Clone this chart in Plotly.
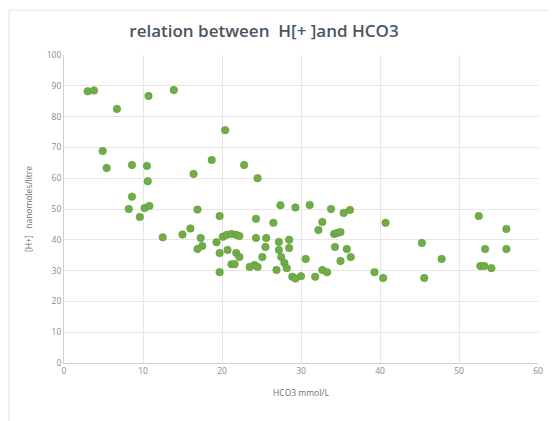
import plotly.graph_objects as go

hco3 = [3.0, 3.8, 6.7, 10.7, 13.9, 4.9, 5.4, 8.6, 10.5, 10.6, 8.6, 8.2, 10.2, 10.8, 9.6,
        12.5, 15.0, 16.0, 16.4, 18.7, 20.4, 22.8, 24.5, 16.9, 19.7, 24.3, 26.5,
        17.3, 17.5, 16.9, 19.3, 20.1, 20.6, 21.2, 21.8, 22.2, 19.7, 20.7, 21.8, 22.2,
        21.2, 21.6, 19.7, 23.5, 24.1, 24.5, 24.3, 25.6, 25.5, 25.1, 27.2, 27.2, 27.5,
        26.9, 28.5, 28.5, 27.9, 28.2, 28.9, 27.4, 29.3, 31.1, 33.8, 35.4, 36.2, 32.7,
        32.2, 34.2, 34.6, 35.0, 34.3, 35.8, 36.3, 35.0, 30.6, 32.7, 33.3, 31.8, 30.0,
        29.3, 39.3, 40.4, 40.7, 45.3, 47.8, 45.6, 52.5, 56.0, 53.3, 56.0, 52.7, 53.2, 54.1]
h_ion = [88.2, 88.5, 82.5, 86.7, 88.6, 68.8, 63.3, 64.3, 64.0, 59.0, 54.0, 50.0, 50.3, 51.0, 47.4,
         40.8, 41.7, 43.7, 61.4, 65.9, 75.6, 64.3, 60.0, 49.8, 47.7, 46.8, 45.5,
         40.6, 38.0, 37.0, 39.2, 41.0, 41.6, 41.9, 41.6, 41.2, 35.7, 36.7, 35.7, 34.4,
         32.1, 32.1, 29.5, 31.2, 31.8, 31.2, 40.6, 40.6, 37.7, 34.4, 39.3, 36.7, 34.4,
         30.2, 40.0, 37.3, 32.5, 30.8, 28.0, 51.2, 50.5, 51.3, 50.0, 48.7, 49.7, 45.8,
         43.2, 41.9, 42.2, 42.5, 37.7, 37.0, 34.4, 33.1, 33.8, 30.2, 29.5, 28.0, 28.2,
         27.4, 29.5, 27.6, 45.5, 39.0, 33.8, 27.6, 47.7, 43.5, 37.0, 37.0, 31.5, 31.5, 30.8]

x_ticks = [0, 10, 20, 30, 40, 50, 60]
y_ticks = [0, 10, 20, 30, 40, 50, 60, 70, 80, 90, 100]

fig = go.Figure()
fig.add_trace(go.Scatter(
    x=hco3, y=h_ion, mode="markers",
    marker=dict(color="#70AD47", size=7.5, line=dict(width=0.6, color="#5E9A3A")),
    showlegend=False, hoverinfo="x+y"))

font = "Open Sans, Noto Sans, sans-serif"
fig.update_layout(
    width=547, height=413,
    margin=dict(l=56, r=15, t=47, b=58),
    paper_bgcolor="white", plot_bgcolor="white",
    title=dict(text="relation between  H[+ ]and HCO3", x=0.468, xanchor="center",
               y=0.945, yanchor="middle",
               font=dict(family=font, size=17, color="#4a5563", weight=600)),
    font=dict(family=font, size=9, color="#7f7f7f"),
    xaxis=dict(range=[0, 60], tickvals=x_ticks, showgrid=True, gridcolor="#e6e6e6",
               gridwidth=1, zeroline=False, showline=True, linecolor="#d0d0d0",
               ticks="", tickfont=dict(size=8.5, color="#8a8a8a"),
               title=dict(text="HCO3 mmol/L", font=dict(size=8.5, color="#6f6f6f"), standoff=14)),
    yaxis=dict(range=[0, 100], tickvals=y_ticks, showgrid=True, gridcolor="#e6e6e6",
               gridwidth=1, zeroline=False, showline=True, linecolor="#d0d0d0",
               ticks="", tickfont=dict(size=8.5, color="#8a8a8a"),
               title=dict(text="[H+]   nanomoles/litre", font=dict(size=8.5, color="#6f6f6f"), standoff=12)),
)
fig.add_shape(type="rect", xref="paper", yref="paper",
              x0=-0.116, x1=1.06, y0=-0.3, y1=1.146,
              line=dict(color="#e3e3e3", width=1))
fig.write_html("out.html")
